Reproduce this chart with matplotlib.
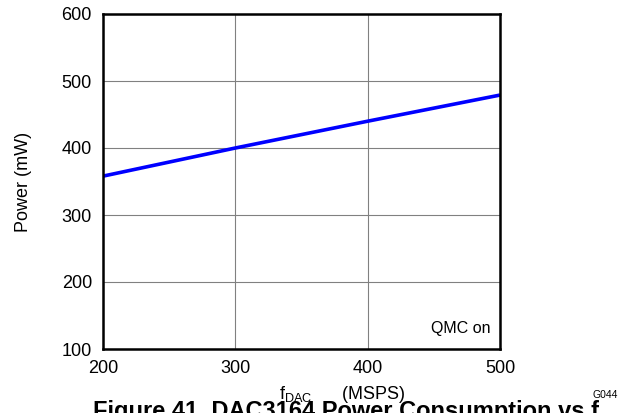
import numpy as np
import matplotlib.pyplot as plt

plt.rcParams['font.family'] = ['Liberation Sans', 'DejaVu Sans']

# Data
f_dac = [200, 300, 400, 500]
power = [358, 400, 440, 479]
x_ticks = [200, 300, 400, 500]
y_ticks = [100, 200, 300, 400, 500, 600]

fig = plt.figure(figsize=(6.23, 4.13), dpi=100)
ax = fig.add_axes([103 / 623, 1 - 349 / 413, 397 / 623, 335 / 413])

ax.plot(f_dac, power, color='#0000ff', linewidth=2.6, solid_capstyle='butt')
ax.set_xlim(200, 500)
ax.set_ylim(100, 600)
ax.set_xticks(x_ticks)
ax.set_yticks(y_ticks)
ax.grid(True, color='#808080', linewidth=0.8)
ax.tick_params(length=0, labelsize=13)
ax.tick_params(axis='x', pad=8)
ax.tick_params(axis='y', pad=8)
for s in ax.spines.values():
    s.set_linewidth(1.8)
    s.set_color('black')

ax.set_xlabel(r'f$_{\mathregular{DAC}}$      (MSPS)', fontsize=13)
ax.xaxis.set_label_coords(0.602, -0.105)
ax.set_ylabel('Power (mW)', fontsize=13)
ax.yaxis.set_label_coords(-0.18, 0.5)
ax.text(0.975, 0.04, 'QMC on', transform=ax.transAxes, ha='right', va='bottom', fontsize=11.5)

fig.text(605 / 623, 1 - 395 / 413, 'G044', fontsize=7.5, ha='center', va='center')
fig.text(93 / 623, 1 - 400 / 413, 'Figure 41. DAC3164 Power Consumption vs f', fontsize=17,
         fontweight='bold', ha='left', va='top')

fig.savefig('out.png', dpi=100)
